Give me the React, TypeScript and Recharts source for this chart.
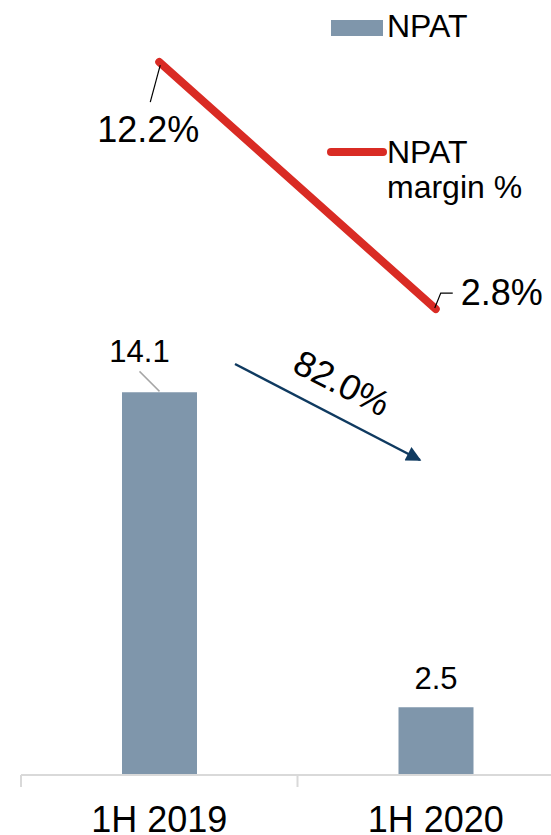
import { ComposedChart, Bar, Line, XAxis, YAxis, Legend, LabelList, Customized } from 'recharts';

const periods = ['1H 2019', '1H 2020'];
const npatValues = [14.1, 2.5];
const marginValues = [12.2, 2.8];
const declineText = '82.0%';

const data = periods.map((period, i) => ({
  period,
  npat: npatValues[i],
  margin: marginValues[i],
}));

const FONT = '"Liberation Sans", Arial, sans-serif';
const BAR_COLOR = '#7f96ab';
const LINE_COLOR = '#d92b24';
const ARROW_COLOR = '#0f3a60';
const AXIS_COLOR = '#d9d9d9';
const HALF_BAND = 138.25;

function PeriodTick({ x, y, payload, index }: any) {
  return (
    <g>
      <line x1={x - HALF_BAND} x2={x - HALF_BAND} y1={y} y2={y + 12} stroke={AXIS_COLOR} strokeWidth={2} />
      {index === periods.length - 1 && (
        <line x1={x + HALF_BAND} x2={x + HALF_BAND} y1={y} y2={y + 12} stroke={AXIS_COLOR} strokeWidth={2} />
      )}
      <text x={x} y={y + 57} textAnchor="middle" fontSize={36} fontFamily={FONT} fill="#000">
        {payload.value}
      </text>
    </g>
  );
}

function NpatLabel({ x, y, width, value, index }: any) {
  const cx = x + width / 2;
  if (index === 0) {
    return (
      <g>
        <line x1={cx - 20} y1={y - 21} x2={cx} y2={y - 1} stroke="#a6a6a6" strokeWidth={1.5} />
        <text x={cx - 20} y={y - 30} textAnchor="middle" fontSize={31} fontFamily={FONT} fill="#000">
          {value.toFixed(1)}
        </text>
      </g>
    );
  }
  return (
    <text x={cx} y={y - 18} textAnchor="middle" fontSize={31} fontFamily={FONT} fill="#000">
      {value.toFixed(1)}
    </text>
  );
}

function MarginLabel({ x, y, value, index }: any) {
  const text = `${value.toFixed(1)}%`;
  if (index === 0) {
    return (
      <g>
        <line x1={x + 1} y1={y + 3} x2={x - 9} y2={y + 40} stroke="#000" strokeWidth={1.2} />
        <text x={x - 11} y={y + 80} textAnchor="middle" fontSize={36} fontFamily={FONT} fill="#000">
          {text}
        </text>
      </g>
    );
  }
  return (
    <g>
      <polyline
        points={`${x - 1},${y - 1} ${x + 5},${y - 16} ${x + 17},${y - 16}`}
        fill="none"
        stroke="#000"
        strokeWidth={1.2}
      />
      <text x={x + 25} y={y - 4} textAnchor="start" fontSize={36} fontFamily={FONT} fill="#000">
        {text}
      </text>
    </g>
  );
}

function LegendContent({ payload }: any) {
  const items = payload ?? [];
  const bar = items.find((p: any) => p.dataKey === 'npat');
  const line = items.find((p: any) => p.dataKey === 'margin');
  const [first, ...rest] = String(line?.value ?? '').split(' ');
  return (
    <svg width={231} height={210} style={{ display: 'block' }}>
      <rect x={11} y={20} width={52} height={16} fill={BAR_COLOR} />
      <text x={67} y={37} fontSize={32} fontFamily={FONT} fill="#000">
        {bar?.value}
      </text>
      <line x1={11} x2={63} y1={152} y2={152} stroke={LINE_COLOR} strokeWidth={8} strokeLinecap="round" />
      <text x={67} y={163} fontSize={32} fontFamily={FONT} fill="#000">
        {first}
      </text>
      <text x={67} y={198} fontSize={32} fontFamily={FONT} fill="#000">
        {rest.join(' ')}
      </text>
    </svg>
  );
}

function DeclineArrow() {
  return (
    <g>
      <defs>
        <marker id="arrowHead" viewBox="0 0 10 10" refX="9" refY="5" markerWidth="7" markerHeight="6" orient="auto">
          <path d="M0,0 L10,5 L0,10 z" fill={ARROW_COLOR} />
        </marker>
      </defs>
      <line x1={235} y1={364} x2={420} y2={460} stroke={ARROW_COLOR} strokeWidth={2.5} markerEnd="url(#arrowHead)" />
      <text
        x={342}
        y={383}
        textAnchor="middle"
        dominantBaseline="central"
        fontSize={36}
        fontFamily={FONT}
        fill="#000"
        transform="rotate(27, 342, 383)"
      >
        {declineText}
      </text>
    </g>
  );
}

export default function App() {
  return (
    <div style={{ position: 'absolute', left: 0, top: 0, width: 551, height: 835, overflow: 'hidden', background: '#fff' }}>
      <ComposedChart
        width={580}
        height={835}
        data={data}
        margin={{ top: 10, right: 6, left: 21, bottom: 0 }}
      >
        <XAxis
          dataKey="period"
          height={60}
          tickSize={0}
          tickMargin={0}
          tickLine={false}
          axisLine={{ stroke: AXIS_COLOR, strokeWidth: 2 }}
          tick={<PeriodTick />}
          interval={0}
        />
        <YAxis yAxisId="left" hide domain={[0, 28.19]} />
        <YAxis yAxisId="right" orientation="right" hide domain={[-14.93, 14.18]} />
        <Legend
          layout="vertical"
          align="center"
          verticalAlign="middle"
          wrapperStyle={{ left: 320, top: 0, width: 231, height: 210 }}
          content={<LegendContent />}
        />
        <Bar yAxisId="left" dataKey="npat" name="NPAT" fill={BAR_COLOR} barSize={75} isAnimationActive={false}>
          <LabelList dataKey="npat" content={<NpatLabel />} />
        </Bar>
        <Line
          yAxisId="right"
          dataKey="margin"
          name="NPAT margin %"
          stroke={LINE_COLOR}
          strokeWidth={8}
          strokeLinecap="round"
          dot={false}
          activeDot={false}
          isAnimationActive={false}
        >
          <LabelList dataKey="margin" content={<MarginLabel />} />
        </Line>
        <Customized component={<DeclineArrow />} />
      </ComposedChart>
    </div>
  );
}
